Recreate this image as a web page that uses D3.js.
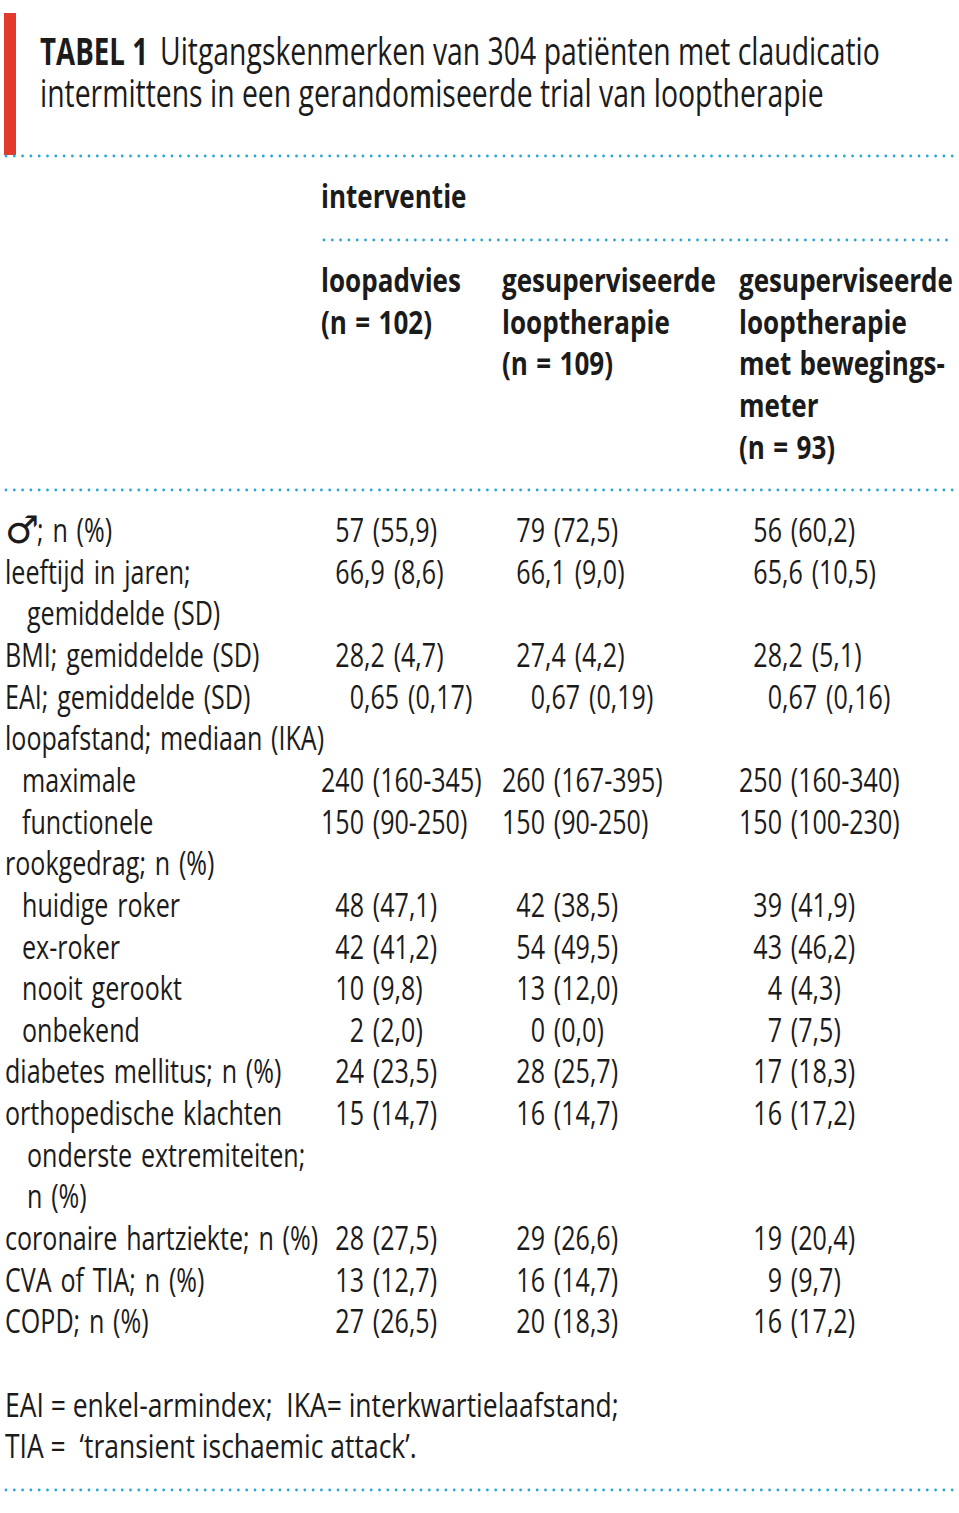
<!DOCTYPE html>
<html>
<head>
<meta charset="utf-8">
<script src="https://cdn.jsdelivr.net/npm/d3@7"></script>
<style>
  body { margin: 0; background: #fff; }
  svg { display: block; }
  text { white-space: pre; }
</style>
</head>
<body>
<div id="main"></div>
<script>
// ---- table content ----
const titleBold = "TABEL 1";
const titleLines = [
  "Uitgangskenmerken van 304 patiënten met claudicatio",
  "intermittens in een gerandomiseerde trial van looptherapie"
];
const groupLabel = "interventie";
const columnHeaders = [
  ["loopadvies", "(n = 102)"],
  ["gesuperviseerde", "looptherapie", "(n = 109)"],
  ["gesuperviseerde", "looptherapie", "met bewegings-", "meter", "(n = 93)"]
];

// row labels: kind "main" = flush left, "sub" = sub-item, "cont" = wrapped continuation
const rowLabels = [
  "♂; n (%)", "leeftijd in jaren;", "gemiddelde (SD)", "BMI; gemiddelde (SD)",
  "EAI; gemiddelde (SD)", "loopafstand; mediaan (IKA)", "maximale", "functionele",
  "rookgedrag; n (%)", "huidige roker", "ex-roker", "nooit gerookt", "onbekend",
  "diabetes mellitus; n (%)", "orthopedische klachten", "onderste extremiteiten;",
  "n (%)", "coronaire hartziekte; n (%)", "CVA of TIA; n (%)", "COPD; n (%)"
];
const rowKinds = [
  "main", "main", "cont", "main", "main", "main", "sub", "sub", "main", "sub",
  "sub", "sub", "sub", "main", "main", "cont", "cont", "main", "main", "main"
];

// leading figure spaces (\u2007) keep the digit alignment of the printed table
const F = "\u2007";
const loopadvies = [
  F + "57 (55,9)", F + "66,9 (8,6)", "", F + "28,2 (4,7)", F + F + "0,65 (0,17)", "",
  "240 (160-345)", "150 (90-250)", "", F + "48 (47,1)", F + "42 (41,2)", F + "10 (9,8)",
  F + F + "2 (2,0)", F + "24 (23,5)", F + "15 (14,7)", "", "", F + "28 (27,5)",
  F + "13 (12,7)", F + "27 (26,5)"
];
const gesuperviseerd = [
  F + "79 (72,5)", F + "66,1 (9,0)", "", F + "27,4 (4,2)", F + F + "0,67 (0,19)", "",
  "260 (167-395)", "150 (90-250)", "", F + "42 (38,5)", F + "54 (49,5)", F + "13 (12,0)",
  F + F + "0 (0,0)", F + "28 (25,7)", F + "16 (14,7)", "", "", F + "29 (26,6)",
  F + "16 (14,7)", F + "20 (18,3)"
];
const metBewegingsmeter = [
  F + "56 (60,2)", F + "65,6 (10,5)", "", F + "28,2 (5,1)", F + F + "0,67 (0,16)", "",
  "250 (160-340)", "150 (100-230)", "", F + "39 (41,9)", F + "43 (46,2)", F + F + "4 (4,3)",
  F + F + "7 (7,5)", F + "17 (18,3)", F + "16 (17,2)", "", "", F + "19 (20,4)",
  F + F + "9 (9,7)", F + "16 (17,2)"
];
const footnotes = [
  "EAI = enkel-armindex;  IKA= interkwartielaafstand;",
  "TIA =  \u2018transient ischaemic attack\u2019."
];

// ---- drawing ----
const width = 959, height = 1513;
const ink = "#1b1b1b";
const blue = "#2aa7d5";
const red = "#e2392f";
const font = "'Open Sans', 'Noto Sans', sans-serif";

const svg = d3.select("#main").append("svg")
  .attr("width", width)
  .attr("height", height);

const styles = {
  titleB: { size: 38, weight: 700, ws: 0 },
  title: { size: 38, weight: 400, ws: 0 },
  head: { size: 33, weight: 700, ws: 2 },
  body: { size: 33, weight: 400, ws: 3 },
  note: { size: 33, weight: 400, ws: 0 }
};

function measure(str, st) {
  const t = svg.append("text")
    .attr("font-family", font).attr("font-size", st.size).attr("font-weight", st.weight)
    .attr("word-spacing", st.ws)
    .text(str);
  const w = t.node().getComputedTextLength();
  t.remove();
  return w;
}

// horizontal squeeze per text style, so the humanist font reads like a condensed face
styles.titleB.sx = 108 / measure(titleBold, styles.titleB);
styles.title.sx = 784 / measure(titleLines[1], styles.title);
styles.head.sx = 214 / measure("gesuperviseerde", styles.head);
styles.body.sx = (307 + 167) / (measure("coronaire hartziekte; n (%)", styles.body) +
  measure("240 (160-345)", styles.body));
styles.note.sx = 614 / measure(footnotes[0], styles.note);

const digitW = measure("0", styles.body) * styles.body.sx;

function put(str, x, y, st) {
  return svg.append("text")
    .attr("transform", `translate(${x},${y}) scale(${st.sx},1)`)
    .attr("font-family", font)
    .attr("font-size", st.size)
    .attr("font-weight", st.weight)
    .attr("word-spacing", st.ws)
    .attr("fill", ink)
    .text(str);
}

function dotted(x1, x2, y) {
  svg.append("line")
    .attr("x1", x1).attr("x2", x2).attr("y1", y).attr("y2", y)
    .attr("stroke", blue)
    .attr("stroke-width", 2.8)
    .attr("stroke-linecap", "round")
    .attr("stroke-dasharray", "0 8.3");
}

// title block
svg.append("rect")
  .attr("x", 4).attr("y", 13)
  .attr("width", 12).attr("height", 142)
  .attr("fill", red);

put(titleBold, 40, 65, styles.titleB);
put(titleLines[0], 160, 65, styles.title);
put(titleLines[1], 40, 107, styles.title);

dotted(6, 954, 156);

// column positions
const columns = ["loopadvies", "gesuperviseerd", "metBewegingsmeter"];
const xCol = d3.scaleOrdinal().domain(columns).range([321, 502, 739]);
const colValues = [loopadvies, gesuperviseerd, metBewegingsmeter];

// header
put(groupLabel, xCol(columns[0]), 208, styles.head);
dotted(324, 954, 240);

const yHead = d3.scaleLinear().domain([0, 1]).range([292, 333.65]);
columnHeaders.forEach((lines, c) => {
  lines.forEach((line, i) => put(line, xCol(columns[c]), yHead(i), styles.head));
});

dotted(6, 954, 490);

// body rows
const yRow = d3.scaleLinear().domain([0, 1]).range([542, 583.65]);
const xLabel = d3.scaleOrdinal().domain(["main", "sub", "cont"]).range([5, 22, 27]);

rowLabels.forEach((label, i) => {
  const x = xLabel(rowKinds[i]);
  if (label.startsWith("♂")) {
    // the male sign is drawn from DejaVu, unsqueezed, at cap size
    svg.append("text")
      .attr("x", x).attr("y", yRow(i) + 1)
      .attr("font-family", "'DejaVu Sans'")
      .attr("font-size", 38)
      .attr("fill", ink)
      .text("♂");
    put(label.slice(1), x + 32, yRow(i), styles.body);
  } else {
    put(label, x, yRow(i), styles.body);
  }
});

colValues.forEach((vals, c) => {
  vals.forEach((v, i) => {
    if (!v) return;
    const pad = (v.match(/^\u2007*/) || [""])[0].length;
    put(v.replace(/^\u2007+/, ""), xCol(columns[c]) + pad * digitW, yRow(i), styles.body);
  });
});

// footnotes
footnotes.forEach((line, i) => put(line, 5, yRow(rowLabels.length + 1 + i), styles.note));

dotted(6, 954, 1490);
</script>
</body>
</html>
